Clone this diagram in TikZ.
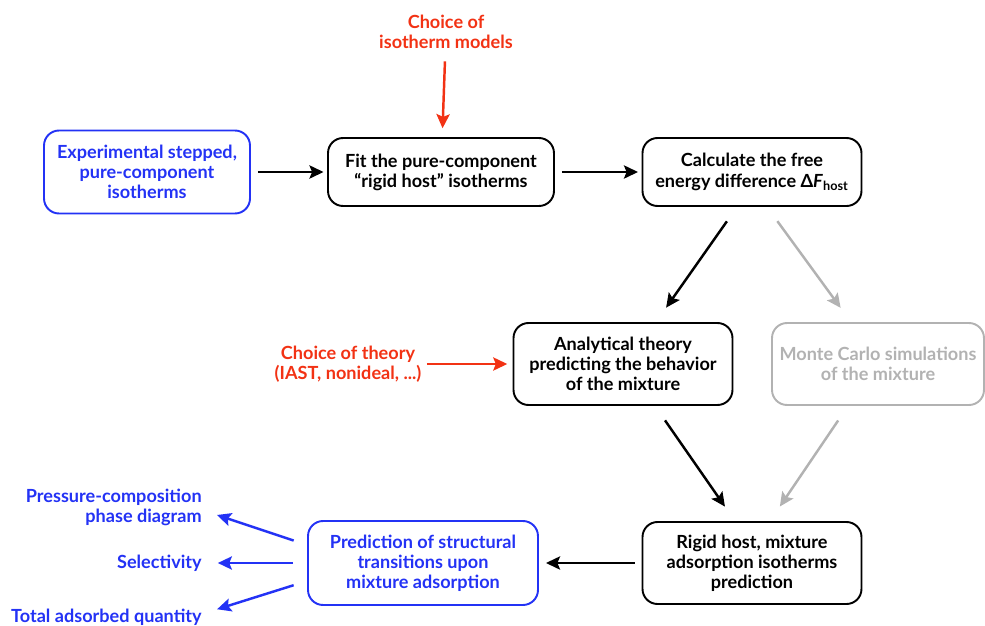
\documentclass[tikz,border=0pt]{standalone}
\usepackage{fontspec}
\setmainfont{Lato}
\usepackage{tikz}
\usetikzlibrary{arrows.meta,calc}

\definecolor{expblue}{RGB}{35,50,245}
\definecolor{choicered}{RGB}{242,50,20}
\definecolor{mcgray}{RGB}{178,178,178}

\begin{document}
\begin{tikzpicture}[x=0.02cm,y=-0.02cm,
  font=\bfseries\fontsize{10.3}{11.4}\selectfont,
  box/.style={draw,line width=1.1pt,rounded corners=0.3cm,align=center,inner sep=2pt},
  arr/.style={line width=1.4pt,-{Stealth[length=8pt,width=7.5pt,inset=1.5pt]}},
  label/.style={align=center,inner sep=0pt}]
\useasboundingbox (0,0) rectangle (985,626);

% Boxes
\node[box,expblue,minimum width=4.12cm,minimum height=1.66cm] (exp) at (147,172)
  {Experimental stepped,\\pure-component\\isotherms};
\node[box,minimum width=4.52cm,minimum height=1.36cm] (fit) at (441,172)
  {Fit the pure-component\\``rigid host'' isotherms};
\node[box,minimum width=4.38cm,minimum height=1.36cm] (free) at (752,172)
  {Calculate the free\\energy difference Δ\textit{F}\textsubscript{host}};
\node[box,minimum width=4.38cm,minimum height=1.64cm] (theory) at (623,364)
  {Analytical theory\\predicting the behavior\\of the mixture};
\node[box,mcgray,minimum width=4.24cm,minimum height=1.64cm] (mc) at (878,364)
  {Monte Carlo simulations\\of the mixture};
\node[box,minimum width=4.38cm,minimum height=1.64cm] (rigid) at (752,563)
  {Rigid host, mixture\\adsorption isotherms\\prediction};
\node[box,expblue,minimum width=4.6cm,minimum height=1.68cm] (pred) at (423,563)
  {Prediction of structural\\transitions upon\\mixture adsorption};

% Labels
\node[label,choicered] (models) at (446,32) {Choice of\\isotherm models};
\node[label,choicered] (choice) at (348,364) {Choice of theory\\(IAST, nonideal, ...)};
\node[label,expblue,anchor=east,align=right] (phase) at (202,507) {Pressure-composition\\phase diagram};
\node[label,expblue,anchor=east] (select) at (202,563) {Selectivity};
\node[label,expblue,anchor=east] (total) at (202,617) {Total adsorbed quantity};

% Main flow
\draw[arr,shorten <=4pt,shorten >=2pt] (exp) -- (fit);
\draw[arr,shorten <=4pt,shorten >=2pt] (fit) -- (free);
\draw[arr,shorten <=10pt,shorten >=10pt] ([xshift=-0.3cm]free.south) -- ([xshift=0.66cm]theory.north);
\draw[arr,mcgray,shorten <=10pt,shorten >=10pt] ([xshift=0.3cm]free.south) -- ([xshift=-0.54cm]mc.north);
\draw[arr,shorten <=10pt,shorten >=10pt] ([xshift=0.64cm]theory.south) -- ([xshift=-0.34cm]rigid.north);
\draw[arr,mcgray,shorten <=10pt,shorten >=10pt] ([xshift=-0.6cm]mc.south) -- ([xshift=0.36cm]rigid.north);
\draw[arr,shorten <=4pt,shorten >=4pt] (rigid) -- (pred);

% Choices
\draw[arr,choicered,shorten <=7pt,shorten >=5pt] (models) -- (fit);
\draw[arr,choicered,shorten <=3pt,shorten >=3pt] (choice) -- (theory);

% Outputs
\draw[arr,expblue,shorten <=8pt,shorten >=9pt] ([yshift=0.36cm]pred.west) -- ([yshift=-0.06cm]phase.east);
\draw[arr,expblue,shorten <=8pt,shorten >=9pt] (pred.west) -- (select.east);
\draw[arr,expblue,shorten <=8pt,shorten >=9pt] ([yshift=-0.36cm]pred.west) -- ([yshift=0.06cm]total.east);

\end{tikzpicture}
\end{document}
